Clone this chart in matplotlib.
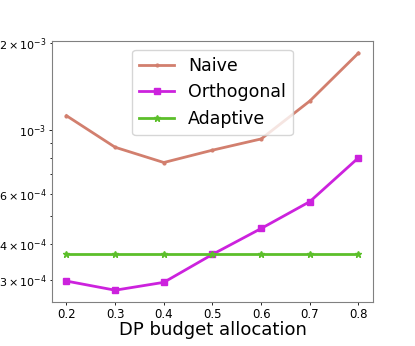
import matplotlib
matplotlib.use("Agg")
import matplotlib.pyplot as plt

budget = [0.2, 0.3, 0.4, 0.5, 0.6, 0.7, 0.8]
naive = [1.12e-3, 8.7e-4, 7.7e-4, 8.5e-4, 9.3e-4, 1.26e-3, 1.85e-3]
orthogonal = [2.98e-4, 2.77e-4, 2.95e-4, 3.69e-4, 4.54e-4, 5.63e-4, 8.0e-4]
adaptive = [3.7e-4, 3.7e-4, 3.7e-4, 3.7e-4, 3.7e-4, 3.7e-4, 3.7e-4]

fig = plt.figure(figsize=(4.15, 3.46), dpi=100)
ax = fig.add_axes([0.125, 0.127, 0.774, 0.754])

ax.plot(budget, naive, color="#d27f6e", lw=2, marker=".", ms=4, label="Naive")
ax.plot(budget, orthogonal, color="#cc22dd", lw=2, marker="s", ms=5, label="Orthogonal")
ax.plot(budget, adaptive, color="#5cbf2a", lw=2, marker="*", ms=5, label="Adaptive")

ax.set_yscale("log")
ax.set_xlabel("DP budget allocation", fontsize=13, labelpad=0)
ax.tick_params(axis="both", which="both", length=2.3, width=0.6, pad=2, colors="#000000")
ax.tick_params(axis="both", which="minor", length=1.5)
ax.tick_params(axis="x", labelsize=8.5)
ax.tick_params(axis="y", which="both", labelsize=8)
for s in ax.spines.values():
    s.set_color("#808080")

ax.legend(loc="upper center", fontsize=12.5, bbox_to_anchor=(0.5, 1.0))
fig.savefig("out.png", dpi=100)
